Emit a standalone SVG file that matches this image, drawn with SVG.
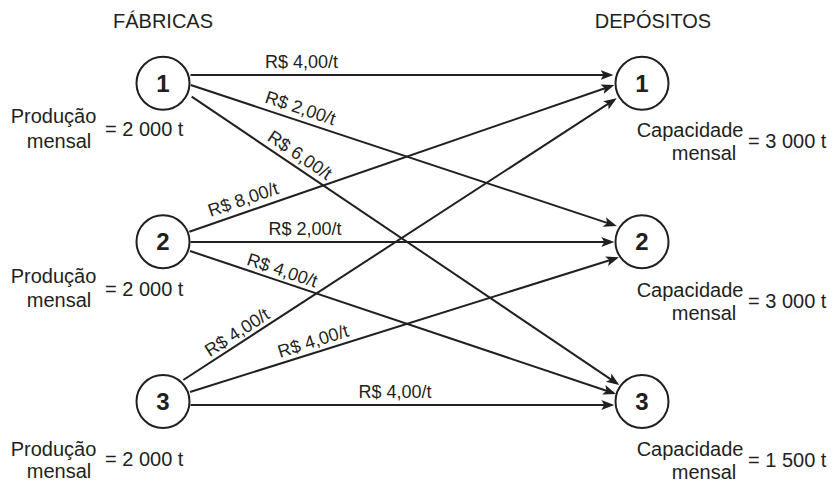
<svg xmlns="http://www.w3.org/2000/svg" width="838" height="484" viewBox="0 0 838 484">
<style>
text{font-family:"Liberation Sans",Arial,Helvetica,sans-serif;fill:#231f20}
.hdr{font-size:20px;text-anchor:middle}
.side{font-size:20px}
.mid{text-anchor:middle}
.cost{font-size:18px;text-anchor:middle}
.num{font-size:24px;font-weight:bold;text-anchor:middle}
.node circle{fill:#fff;stroke:#231f20;stroke-width:2}
.edge{stroke:#231f20;stroke-width:2;fill:none;marker-end:url(#arr)}
</style>
<defs>
<marker id="arr" markerUnits="userSpaceOnUse" markerWidth="14" markerHeight="12" refX="10" refY="5" orient="auto" viewBox="0 0 14 10">
<path d="M0,0 L13,5 L0,10 L3,5 z" fill="#231f20"/>
</marker>
</defs>
<rect width="838" height="484" fill="#fff"/>
<text class="hdr" x="163" y="28">FÁBRICAS</text>
<text class="hdr" x="653" y="28">DEPÓSITOS</text>
<g id="connectors">
<line class="edge" x1="190.5" y1="75" x2="610.5" y2="75"/>
<line class="edge" x1="190.7" y1="85" x2="613.9" y2="225.1"/>
<line class="edge" x1="191.7" y1="96.7" x2="616.8" y2="383.3"/>
<line class="edge" x1="189.3" y1="231.7" x2="611.5" y2="86"/>
<line class="edge" x1="190.5" y1="242" x2="611.3" y2="242"/>
<line class="edge" x1="190" y1="251" x2="613.2" y2="393"/>
<line class="edge" x1="183.3" y1="380" x2="614.2" y2="99.9"/>
<line class="edge" x1="190" y1="392" x2="616.1" y2="258.2"/>
<line class="edge" x1="190.5" y1="405" x2="611.3" y2="405"/>
<text class="cost" x="301.5" y="68">R$ 4,00/t</text>
<text class="cost" transform="translate(296.5,119.9) rotate(18.31)" x="0" y="-6.5">R$ 2,00/t</text>
<text class="cost" transform="translate(293.1,165.1) rotate(34)" x="0" y="-6">R$ 6,00/t</text>
<text class="cost" transform="translate(247.4,211.8) rotate(-19.08)" x="0" y="-7">R$ 8,00/t</text>
<text class="cost" x="305" y="235">R$ 2,00/t</text>
<text class="cost" transform="translate(278.7,280.8) rotate(18.56)" x="0" y="-5">R$ 4,00/t</text>
<text class="cost" transform="translate(242.8,341.2) rotate(-33)" x="0" y="-4.5">R$ 4,00/t</text>
<text class="cost" transform="translate(316.5,352.2) rotate(-17.47)" x="0" y="-5.5">R$ 4,00/t</text>
<text class="cost" x="395" y="398">R$ 4,00/t</text>
</g>
<g id="f1" class="node">
<circle cx="163" cy="83.3" r="26.5"/>
<text class="num" x="163" y="91.6">1</text>
<text class="side mid" x="53.5" y="123">Produção</text>
<text class="side mid" x="59" y="148">mensal</text>
<text class="side" x="105" y="136">= 2 000 t</text>
</g>
<g id="f2" class="node">
<circle cx="163" cy="241.7" r="26.5"/>
<text class="num" x="163" y="250">2</text>
<text class="side mid" x="53.5" y="283">Produção</text>
<text class="side mid" x="59" y="307">mensal</text>
<text class="side" x="105" y="296">= 2 000 t</text>
</g>
<g id="f3" class="node">
<circle cx="163" cy="401.5" r="26.5"/>
<text class="num" x="163" y="409.8">3</text>
<text class="side mid" x="53.5" y="455.5">Produção</text>
<text class="side mid" x="59" y="478">mensal</text>
<text class="side" x="105" y="466">= 2 000 t</text>
</g>
<g id="d1" class="node">
<circle cx="642" cy="83.3" r="26.5"/>
<text class="num" x="642" y="91.6">1</text>
<text class="side mid" x="690" y="137">Capacidade</text>
<text class="side mid" x="704" y="159.5">mensal</text>
<text class="side" x="748" y="148">= 3 000 t</text>
</g>
<g id="d2" class="node">
<circle cx="642" cy="241.7" r="26.5"/>
<text class="num" x="642" y="250">2</text>
<text class="side mid" x="690" y="296.5">Capacidade</text>
<text class="side mid" x="704" y="319.5">mensal</text>
<text class="side" x="748" y="308">= 3 000 t</text>
</g>
<g id="d3" class="node">
<circle cx="642" cy="401.5" r="26.5"/>
<text class="num" x="642" y="409.8">3</text>
<text class="side mid" x="690" y="455.5">Capacidade</text>
<text class="side mid" x="704" y="478.5">mensal</text>
<text class="side" x="748" y="466.5">= 1 500 t</text>
</g>
</svg>
